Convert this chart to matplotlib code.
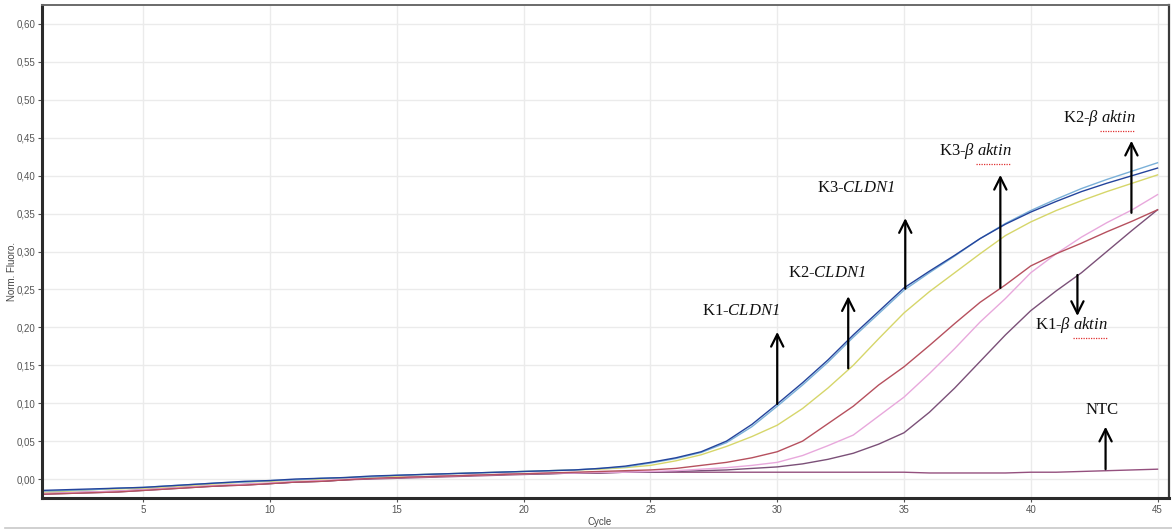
import numpy as np
import matplotlib
matplotlib.use("Agg")
import matplotlib.pyplot as plt
from matplotlib.ticker import FuncFormatter, MultipleLocator
from matplotlib.lines import Line2D

plt.rcParams['font.family'] = ['Liberation Sans', 'DejaVu Sans']
plt.rcParams['mathtext.fontset'] = 'custom'
plt.rcParams['mathtext.rm'] = 'Liberation Serif'
plt.rcParams['mathtext.it'] = 'Liberation Serif:italic'
# \mathbf is used as a plain italic face so the digits come out slanted too
plt.rcParams['mathtext.bf'] = 'Liberation Serif:italic'

cycles = list(range(1, 46))

# normalised fluorescence per cycle
dark_blue = [-0.015, -0.014, -0.013, -0.012, -0.011, -0.009, -0.007, -0.005, -0.003, -0.002,
             0.000, 0.001, 0.002, 0.004, 0.005, 0.006, 0.007, 0.008, 0.009, 0.010,
             0.011, 0.012, 0.014, 0.017, 0.022, 0.028, 0.036, 0.050, 0.072, 0.099,
             0.127, 0.157, 0.190, 0.221, 0.252, 0.274, 0.295, 0.317, 0.336, 0.352,
             0.366, 0.379, 0.390, 0.400, 0.410]
light_blue = [-0.016, -0.015, -0.014, -0.012, -0.011, -0.009, -0.007, -0.005, -0.004, -0.002,
              -0.001, 0.001, 0.002, 0.003, 0.005, 0.006, 0.007, 0.008, 0.009, 0.010,
              0.011, 0.012, 0.014, 0.016, 0.021, 0.027, 0.035, 0.048, 0.069, 0.096,
              0.124, 0.154, 0.187, 0.218, 0.249, 0.272, 0.294, 0.317, 0.337, 0.354,
              0.369, 0.383, 0.395, 0.406, 0.417]
yellow = [-0.017, -0.016, -0.014, -0.013, -0.012, -0.010, -0.008, -0.006, -0.004, -0.003,
          -0.001, 0.000, 0.002, 0.003, 0.004, 0.006, 0.007, 0.008, 0.009, 0.010,
          0.011, 0.012, 0.013, 0.015, 0.018, 0.024, 0.032, 0.043, 0.056, 0.071,
          0.093, 0.120, 0.150, 0.185, 0.219, 0.247, 0.272, 0.297, 0.321, 0.339,
          0.354, 0.367, 0.379, 0.390, 0.401]
red = [-0.020, -0.019, -0.018, -0.017, -0.015, -0.013, -0.011, -0.009, -0.008, -0.006,
       -0.004, -0.003, -0.001, 0.001, 0.002, 0.003, 0.004, 0.005, 0.006, 0.007,
       0.008, 0.009, 0.010, 0.011, 0.012, 0.014, 0.018, 0.022, 0.028, 0.036,
       0.050, 0.073, 0.096, 0.124, 0.148, 0.176, 0.205, 0.233, 0.256, 0.281,
       0.297, 0.311, 0.326, 0.340, 0.355]
pink = [-0.019, -0.018, -0.017, -0.016, -0.014, -0.012, -0.010, -0.008, -0.007, -0.005,
        -0.003, -0.002, 0.000, 0.001, 0.002, 0.003, 0.004, 0.005, 0.006, 0.007,
        0.008, 0.008, 0.009, 0.009, 0.010, 0.011, 0.013, 0.015, 0.018, 0.022,
        0.031, 0.044, 0.058, 0.083, 0.108, 0.139, 0.172, 0.207, 0.238, 0.272,
        0.297, 0.319, 0.338, 0.355, 0.375]
purple = [-0.020, -0.019, -0.018, -0.017, -0.015, -0.013, -0.011, -0.009, -0.008, -0.006,
          -0.004, -0.003, -0.001, 0.001, 0.002, 0.003, 0.004, 0.005, 0.006, 0.007,
          0.007, 0.008, 0.008, 0.009, 0.009, 0.010, 0.011, 0.012, 0.014, 0.016,
          0.020, 0.026, 0.034, 0.046, 0.061, 0.088, 0.120, 0.155, 0.190, 0.222,
          0.248, 0.272, 0.300, 0.328, 0.355]
ntc = [-0.019, -0.018, -0.017, -0.016, -0.014, -0.012, -0.010, -0.009, -0.007, -0.006,
       -0.004, -0.003, -0.001, 0.000, 0.001, 0.002, 0.003, 0.004, 0.005, 0.006,
       0.007, 0.008, 0.008, 0.009, 0.009, 0.009, 0.009, 0.009, 0.009, 0.009,
       0.009, 0.009, 0.009, 0.009, 0.009, 0.008, 0.008, 0.008, 0.008, 0.009,
       0.009, 0.010, 0.011, 0.012, 0.013]

series = [
    (ntc, "#94507e"),
    (purple, "#7b5078"),
    (pink, "#e8a8dc"),
    (red, "#b6505e"),
    (yellow, "#d6d66a"),
    (light_blue, "#7ab0d8"),
    (dark_blue, "#24449c"),
]

# label text, arrow x, arrow tail y, arrow head y, label position (x, y)
labels = [
    ("K1-$\\mathbf{CLDN1}$", 30.0, 0.099, 0.194, 28.55, 0.222),
    ("K2-$\\mathbf{CLDN1}$", 32.8, 0.146, 0.241, 31.95, 0.272),
    ("K3-$\\mathbf{CLDN1}$", 35.05, 0.251, 0.344, 33.1, 0.384),
    ("K3-$\\mathbf{\\beta}$ $\\mathbf{aktin}$", 38.8, 0.252, 0.401, 37.8, 0.433),
    ("K2-$\\mathbf{\\beta}$ $\\mathbf{aktin}$", 43.97, 0.351, 0.446, 42.7, 0.476),
    ("K1-$\\mathbf{\\beta}$ $\\mathbf{aktin}$", 41.84, 0.269, 0.215, 41.6, 0.203),
    ("NTC", 42.95, 0.013, 0.069, 42.8, 0.091),
]

fig = plt.figure(figsize=(11.72, 5.32), dpi=100)
ax = fig.add_axes([0.0358, 0.0639, 0.9616, 0.9267])

for vals, col in series:
    ax.plot(cycles, vals, color=col, lw=1.0)

ax.set_xlim(1, 45.45)
ax.set_ylim(-0.025, 0.625)
ax.xaxis.set_major_locator(MultipleLocator(5))
ax.yaxis.set_major_locator(MultipleLocator(0.05))
ax.yaxis.set_major_formatter(FuncFormatter(lambda v, p: f"{v:.2f}".replace(".", ",")))
ax.grid(True, color="#ebebeb", lw=1.0)
ax.set_axisbelow(True)
ax.tick_params(labelsize=7, colors="#555555", length=3, width=0.8, pad=2)

for side in ["left", "bottom"]:
    ax.spines[side].set_linewidth(2.2)
    ax.spines[side].set_color("#2b2b2b")
ax.spines["top"].set_linewidth(1.4)
ax.spines["top"].set_color("#6a6a6a")
ax.spines["right"].set_linewidth(1.6)
ax.spines["right"].set_color("#3a3a3a")

fig.text(0.512, 0.019, "Cycle", fontsize=7, color="#444444", ha="center", va="center")
fig.text(0.010, 0.49, "Norm. Fluoro.", fontsize=7, color="#444444",
         rotation=90, ha="center", va="center")

for text, x, y0, y1, tx, ty in labels:
    ax.annotate("", xy=(x, y1), xytext=(x, y0),
                arrowprops=dict(arrowstyle="->", color="black", lw=1.6,
                                mutation_scale=22, shrinkA=0, shrinkB=0))
    ax.text(tx, ty, text, fontsize=12, family="Liberation Serif",
            ha="center", va="center", color="#111111")
    if "aktin" in text:
        # red spell-check squiggle under "aktin"
        ax.plot([tx + 0.05, tx + 1.4], [ty - 0.017, ty - 0.017], color="#e03030",
                lw=0.9, ls=(0, (1, 1)))

fig.add_artist(Line2D([0.004, 1.0], [0.0075, 0.0075], color="#c8c8c8", lw=1.2))

fig.savefig("out.png", dpi=100)
